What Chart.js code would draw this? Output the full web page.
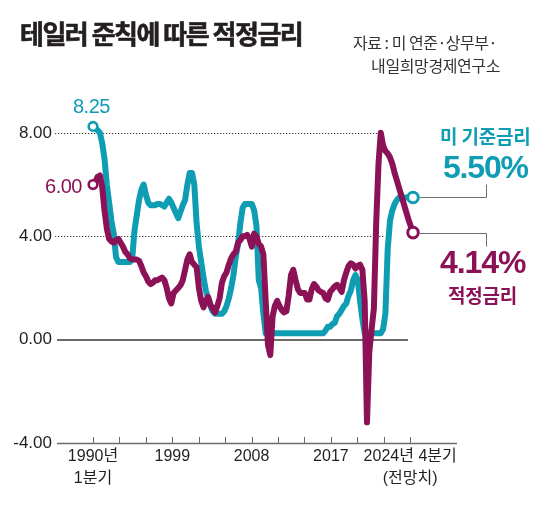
<!DOCTYPE html>
<html><head><meta charset="utf-8">
<script src="https://cdn.jsdelivr.net/npm/chart.js@4.4.1/dist/chart.umd.min.js"></script>
<style>
html,body{margin:0;padding:0;background:#fff;}
#wrap{position:relative;width:559px;height:509px;overflow:hidden;background:#fff;}
canvas{position:absolute;left:0;top:0;}
.t{position:absolute;white-space:nowrap;line-height:1;}
.kr{font-family:'Noto Sans CJK KR',sans-serif;}
.num{font-family:'Liberation Sans',Arial,sans-serif;}
</style></head><body>
<div id="wrap">
<canvas id="c" width="559" height="509"></canvas>
<div class="t kr" style="left:20px;top:20px;font-size:26px;font-weight:700;color:#231f20;letter-spacing:-1.5px;-webkit-text-stroke:0.6px #231f20">테일러 준칙에 따른 적정금리</div>
<div class="t kr" style="right:62px;top:34px;font-size:16px;color:#333;letter-spacing:-0.5px">자료 : 미 연준·상무부·</div>
<div class="t kr" style="right:59px;top:57px;font-size:16px;color:#333;letter-spacing:-0.4px">내일희망경제연구소</div>
<div class="t num" style="left:73px;top:95.5px;font-size:20px;color:#0e9db3;letter-spacing:-0.5px">8.25</div>
<div class="t num" style="right:477px;top:175.5px;font-size:20px;color:#8c1257;letter-spacing:-0.5px">6.00</div>
<div class="t kr" style="left:440px;top:125.5px;font-size:19px;font-weight:700;color:#0e9db3;letter-spacing:-0.2px">미 기준금리</div>
<div class="t num" style="left:443px;top:151px;font-size:32px;font-weight:700;color:#0e9db3;letter-spacing:-1.2px">5.50%</div>
<div class="t num" style="left:440px;top:246px;font-size:32px;font-weight:700;color:#8c1257;letter-spacing:-1.1px">4.14%</div>
<div class="t kr" style="left:448px;top:284.5px;font-size:19px;font-weight:700;color:#8c1257;letter-spacing:-0.2px">적정금리</div>
</div>
<script>
// ---- data ----
const quarters = [];
for (let yr = 1990; yr <= 2024; yr++) for (let q = 1; q <= 4; q++) quarters.push(yr + 'Q' + q);

const fedFundsRate = [
  8.25, 8.2, 8.1, 8.0, 7.6, 7.0, 6.0, 5.3, 4.6, 4.1,
  3.2, 3.0, 3.0, 3.0, 3.0, 3.0, 3.0, 3.1, 4.2, 4.8,
  5.4, 5.8, 6.0, 5.6, 5.3, 5.2, 5.2, 5.2, 5.25, 5.25,
  5.2, 5.15, 5.3, 5.45, 5.3, 5.1, 4.9, 4.7, 4.95, 5.2,
  5.4, 6.0, 6.45, 6.45, 6.0, 4.5, 3.6, 3.0, 2.4, 1.9,
  1.6, 1.3, 1.1, 1.0, 1.0, 1.0, 1.0, 1.1, 1.3, 1.6,
  2.0, 2.5, 3.2, 3.7, 4.5, 5.1, 5.25, 5.25, 5.25, 5.25,
  5.0, 4.4, 2.3, 2.0, 1.0, 0.25, 0.25, 0.25, 0.25, 0.25,
  0.25, 0.25, 0.25, 0.25, 0.25, 0.25, 0.25, 0.25, 0.25, 0.25,
  0.25, 0.25, 0.25, 0.25, 0.25, 0.25, 0.25, 0.25, 0.25, 0.25,
  0.25, 0.35, 0.5, 0.5, 0.6, 0.65, 0.9, 1.0, 1.15, 1.3,
  1.4, 1.7, 1.9, 2.3, 2.5, 2.3, 1.5, 0.8, 0.25, 0.25,
  0.25, 0.25, 0.25, 0.25, 0.25, 0.25, 0.4, 1.0, 3.5, 4.6,
  5.0, 5.25, 5.4, 5.5, 5.5, 5.5, 5.5, 5.5, 5.5, 5.5
];

const taylorRate = [
  6.0, 6.1, 6.3, 6.35, 5.9, 5.0, 4.3, 3.9, 3.8, 3.75,
  3.85, 3.9, 3.75, 3.6, 3.4, 3.3, 3.15, 3.1, 3.1, 3.1,
  3.05, 2.85, 2.6, 2.45, 2.25, 2.15, 2.2, 2.3, 2.3, 2.35,
  2.4, 2.3, 2.0, 1.6, 1.4, 1.8, 1.9, 2.0, 2.1, 2.3,
  2.7, 3.1, 3.3, 3.0, 2.9, 2.8, 2.0, 1.5, 1.25, 1.5,
  1.65, 1.35, 1.2, 1.05, 1.3, 1.6, 2.2, 2.45, 2.6, 2.9,
  3.15, 3.3, 3.4, 3.75, 3.85, 4.0, 4.0, 4.05, 3.9, 3.6,
  4.1, 4.0, 3.7, 3.6, 3.3, 1.5, -0.2, -0.6, 0.9, 1.3,
  1.5, 1.3, 1.15, 1.05, 1.1, 1.7, 2.5, 2.7, 2.3, 1.95,
  1.8, 1.8, 1.8, 1.55, 1.55, 1.95, 2.15, 2.05, 1.9, 1.85,
  1.8, 1.6, 1.55, 1.85, 1.95, 2.06, 2.12, 2.0, 1.85, 2.3,
  2.6, 2.85, 2.95, 2.9, 2.75, 2.85, 2.9, 2.7, 1.5, -3.2,
  -0.5, 0.4, 1.2, 4.5, 6.8, 8.0, 7.5, 7.3, 7.2, 7.05,
  6.8, 6.45, 6.15, 5.85, 5.55, 5.25, 4.95, 4.65, 4.4, 4.14
];

const yTickValues = [-4, 0, 4, 8];
const xTickLabels = [
  ['1990년', '1분기'], '', '', '1999', '', '', '2008', '', '', '2017', '', '', ['2024년 4분기', '(전망치)']
];

// ---- style ----
const TEAL = '#0e9db3';
const MAGENTA = '#8c1257';
const AXIS = '#6d6a6a';
const X_TICK_STEP = 11.48;   // quarter-index spacing between axis tick marks
const lastIdx = quarters.length - 1;

const toPoints = arr => arr.map((v, i) => ({ x: i, y: v }));

const endR = (first, last) => c => c.dataIndex === 0 ? first : (c.dataIndex === lastIdx ? last : 0);

const decor = {
  id: 'decor',
  beforeDatasetsDraw(chart) {
    const { ctx, scales: { x, y } } = chart;
    ctx.save();
    // dotted grid lines at 8 and 4
    ctx.strokeStyle = '#3d3a3a';
    ctx.lineWidth = 1.2;
    ctx.setLineDash([1.3, 1.7]);
    [[8, 124.6], [4, 126.8]].forEach(([v, end]) => {
      const py = Math.round(y.getPixelForValue(v)) + 0.5;
      ctx.beginPath();
      ctx.moveTo(x.left - 1, py);
      ctx.lineTo(x.getPixelForValue(end), py);
      ctx.stroke();
    });
    ctx.setLineDash([]);
    // zero line
    ctx.strokeStyle = AXIS;
    ctx.lineWidth = 2;
    let py0 = Math.round(y.getPixelForValue(0));
    ctx.beginPath();
    ctx.moveTo(x.left + 1, py0);
    ctx.lineTo(x.getPixelForValue(136.8), py0);
    ctx.stroke();
    // bottom axis line and tick marks
    ctx.lineWidth = 1.3;
    const pb = Math.round(y.getPixelForValue(-4)) + 0.5;
    ctx.beginPath();
    ctx.moveTo(x.left + 1, pb);
    ctx.lineTo(x.right, pb);
    ctx.stroke();
    ctx.lineWidth = 1;
    x.ticks.forEach(t => {
      const px = Math.round(x.getPixelForValue(t.value)) + 0.5;
      ctx.beginPath();
      ctx.moveTo(px, pb);
      ctx.lineTo(px, pb - 6.5);
      ctx.stroke();
    });
    ctx.restore();
  },
  afterDatasetsDraw(chart) {
    const { ctx } = chart;
    ctx.save();
    ctx.strokeStyle = '#6d6e71';
    ctx.lineWidth = 1;
    const legX = 486.5;
    [[1, -13], [0, 13]].forEach(([di, dy]) => {
      const pt = chart.getDatasetMeta(di).data[lastIdx];
      const py = Math.round(pt.y) + 0.5;
      ctx.beginPath();
      ctx.moveTo(pt.x + 7, py);
      ctx.lineTo(legX, py);
      ctx.lineTo(legX, py + dy);
      ctx.stroke();
    });
    ctx.restore();
  }
};

new Chart(document.getElementById('c'), {
  type: 'line',
  data: {
    labels: quarters,
    datasets: [
      {
        label: '적정금리',
        data: toPoints(taylorRate),
        borderColor: MAGENTA,
        borderWidth: 6,
        borderJoinStyle: 'round',
        borderCapStyle: 'round',
        tension: 0,
        pointRadius: endR(4.3, 5.3),
        pointBorderWidth: endR(2.6, 3),
        pointBackgroundColor: '#fff',
        pointBorderColor: MAGENTA,
        clip: false
      },
      {
        label: '미 기준금리',
        data: toPoints(fedFundsRate),
        borderColor: TEAL,
        borderWidth: 6,
        borderJoinStyle: 'round',
        borderCapStyle: 'round',
        tension: 0,
        pointRadius: endR(4.3, 5.3),
        pointBorderWidth: endR(2.6, 3),
        pointBackgroundColor: '#fff',
        pointBorderColor: TEAL,
        clip: false
      }
    ]
  },
  options: {
    responsive: false,
    animation: false,
    events: [],
    layout: { padding: { left: 0, right: 102, top: 107, bottom: 0 } },
    plugins: { legend: { display: false }, tooltip: { enabled: false }, title: { display: false } },
    scales: {
      x: {
        type: 'linear',
        min: -16.07,
        max: 158.1,
        grid: { display: false, drawTicks: false },
        border: { display: false },
        afterBuildTicks: s => { s.ticks = xTickLabels.map((_, k) => ({ value: k * X_TICK_STEP })); },
        afterFit: s => { s.height = 66; },
        ticks: {
          autoSkip: false,
          maxRotation: 0,
          padding: 3,
          color: '#231f20',
          font: { family: "'Liberation Sans', 'Noto Sans CJK KR', sans-serif", size: 16, lineHeight: 1.375 },
          callback: (v, i) => xTickLabels[i]
        }
      },
      y: {
        min: -4,
        max: 9,
        grid: { display: false, drawTicks: false },
        border: { display: false },
        afterBuildTicks: s => { s.ticks = yTickValues.map(v => ({ value: v })); },
        afterFit: s => { s.width = 56; },
        ticks: {
          padding: 4,
          color: '#231f20',
          font: { family: "'Liberation Sans', sans-serif", size: 17 },
          callback: v => v.toFixed(2)
        }
      }
    }
  },
  plugins: [decor]
});
</script>
</body></html>
